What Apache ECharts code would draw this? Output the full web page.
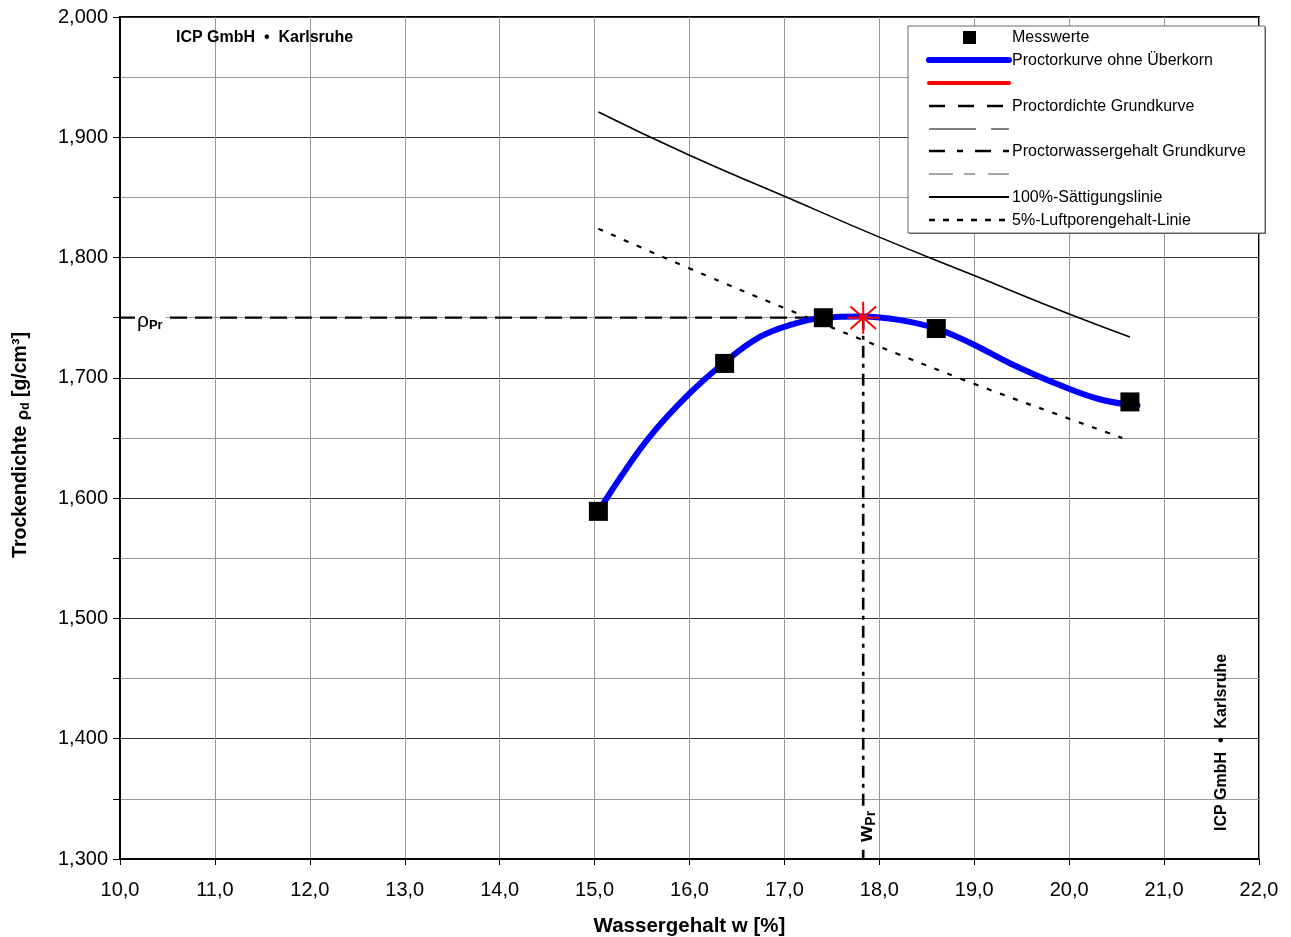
<!DOCTYPE html>
<html><head><meta charset="utf-8">
<script src="https://cdn.jsdelivr.net/npm/echarts@6/dist/echarts.min.js"></script>
<style>html,body{margin:0;padding:0;background:#fff}#c{width:1291px;height:937px}</style>
</head><body><div id="c"></div>
<script>
// ---- data ----
const messW   = [15.04, 16.37, 17.41, 18.60, 20.64];
const messRho = [1.589, 1.712, 1.750, 1.741, 1.680];

const proctorW   = [15.04, 15.27, 15.58, 16.00, 16.37, 16.74, 17.06, 17.41, 17.82, 18.22, 18.60, 18.96, 19.38, 19.90, 20.33, 20.72];
const proctorRho = [1.589, 1.617, 1.651, 1.687, 1.713, 1.734, 1.744, 1.750, 1.751, 1.748, 1.741, 1.729, 1.712, 1.694, 1.682, 1.677];

const satW   = [15.04, 16.0, 17.0, 18.0, 19.0, 20.0, 20.64];
const satRho = [1.921, 1.885, 1.851, 1.817, 1.785, 1.753, 1.734];

const airW   = [15.04, 16.0, 17.0, 18.0, 19.0, 20.0, 20.56];
const airRho = [1.824, 1.791, 1.758, 1.726, 1.695, 1.666, 1.650];

const wPr = 17.83;
const rhoPr = 1.750;

const xMin = 10, xMax = 22, xStep = 1;
const yMin = 1.3, yMax = 2.0, yStep = 0.1;

const legendLabels = ['Messwerte', 'Proctorkurve ohne Überkorn', '', 'Proctordichte Grundkurve', '', 'Proctorwassergehalt Grundkurve', '', '100%-Sättigungslinie', '5%-Luftporengehalt-Linie'];
const brandText = 'ICP GmbH  \u2022  Karlsruhe';

// ---- chart ----
const FONT = "'Liberation Sans', Arial, sans-serif";
const zip = (a, b) => a.map((v, i) => [v, b[i]]);
const chart = echarts.init(document.getElementById('c'), null, {renderer: 'canvas'});

const option = {
  animation: false,
  backgroundColor: '#fff',
  textStyle: {fontFamily: FONT},
  grid: {left: 120, right: 32, top: 17, bottom: 78, outerBoundsMode: 'none', containLabel: false,
    show: true, borderColor: '#000', borderWidth: 2, backgroundColor: 'transparent'},
  xAxis: {
    type: 'value', min: xMin, max: xMax, interval: xStep,
    name: 'Wassergehalt w [%]', nameLocation: 'middle', nameGap: 57,
    nameTextStyle: {fontFamily: FONT, fontSize: 20.5, fontWeight: 'bold', color: '#000'},
    axisLine: {show: true, onZero: false, lineStyle: {color: '#000', width: 2}},
    axisTick: {show: true, length: 6, lineStyle: {color: '#000', width: 1}},
    axisLabel: {margin: 21, fontSize: 20, color: '#000', fontFamily: FONT, formatter: v => v.toFixed(1).replace('.', ',')},
    splitLine: {show: true, lineStyle: {color: '#999', width: 1}}
  },
  yAxis: {
    type: 'value', min: yMin, max: yMax, interval: yStep,
    name: '{n|Trockendichte }{r|\u03c1}{s|d}{n| [g/cm\u00b3]}', nameLocation: 'middle', nameGap: 88, nameRotate: 90,
    nameTextStyle: {padding: [0, 14, 0, 0], rich: {
      n: {fontFamily: FONT, fontSize: 19.5, fontWeight: 'bold', color: '#000'},
      r: {fontFamily: FONT, fontSize: 17, fontWeight: 'bold', color: '#000', verticalAlign: 'bottom', padding: [5, 0, 0, 0]},
      s: {fontFamily: FONT, fontSize: 12, fontWeight: 'bold', color: '#000', verticalAlign: 'bottom', padding: [6, 0, 0, 0]}
    }},
    axisLine: {show: true, onZero: false, lineStyle: {color: '#000', width: 2}},
    axisTick: {show: true, length: 7, lineStyle: {color: '#000', width: 1}},
    minorTick: {show: true, splitNumber: 2, length: 7, lineStyle: {color: '#000', width: 1}},
    minorSplitLine: {show: true, lineStyle: {color: '#999', width: 1}},
    axisLabel: {margin: 12, fontSize: 20, color: '#000', fontFamily: FONT, formatter: v => v.toFixed(3).replace('.', ',')},
    splitLine: {show: true, lineStyle: {color: '#333', width: 1}}
  },
  series: [
    {name: 'sat', type: 'line', data: zip(satW, satRho), smooth: true, symbol: 'none', lineStyle: {color: '#000', width: 1.6}, z: 3},
    {name: 'air', type: 'line', data: zip(airW, airRho), smooth: true, symbol: 'none', lineStyle: {color: '#000', width: 2.2, type: [5, 9]}, z: 3},
    {name: 'rhoPr', type: 'line', data: [[xMin, rhoPr], [wPr, rhoPr]], symbol: 'none', lineStyle: {color: '#000', width: 2.2, type: [17, 8]}, z: 4},
    {name: 'wPr', type: 'line', data: [[wPr, rhoPr], [wPr, yMin]], symbol: 'none', lineStyle: {color: '#000', width: 2.6, type: [12, 6, 4, 6]}, z: 4},
    {name: 'proctor', type: 'line', data: zip(proctorW, proctorRho), smooth: 0.4, symbol: 'none', lineStyle: {color: '#0000ff', width: 6, cap: 'round'}, z: 5},
    {name: 'mess', type: 'scatter', data: zip(messW, messRho), symbol: 'rect', symbolSize: 19, itemStyle: {color: '#000', opacity: 1}, z: 6},
    {name: 'star', type: 'scatter', data: [[wPr, rhoPr]], symbol: 'path://M10,0L10,20M0,10L20,10M2,3L18,17M2,17L18,3', symbolSize: 32,
      itemStyle: {color: 'none', borderColor: '#ff0000', borderWidth: 2, opacity: 1}, z: 7}
  ]
};
chart.setOption(option);

// annotations & legend (positioned through the chart's own scales)
const pRho = chart.convertToPixel({gridIndex: 0}, [xMin, rhoPr]);
const pW = chart.convertToPixel({gridIndex: 0}, [wPr, yMin]);
const pTL = chart.convertToPixel({gridIndex: 0}, [xMin, yMax]);
const pBR = chart.convertToPixel({gridIndex: 0}, [xMax, yMin]);

const graphics = [];
// rho_Pr label
graphics.push({type: 'text', x: pRho[0] + 15, y: pRho[1] + 3, z: 50,
  style: {text: '{r|\u03c1}{s|Pr}', verticalAlign: 'middle', backgroundColor: '#fff', padding: [0, 3, 0, 2],
    rich: {r: {fontFamily: FONT, fontSize: 21, fill: '#000'}, s: {fontFamily: FONT, fontSize: 13, fontWeight: 'bold', fill: '#000', padding: [9, 0, 0, 0]}}}});
// w_Pr label (rotated)
graphics.push({type: 'text', x: pW[0] + 3, y: pW[1] - 15, rotation: Math.PI / 2, z: 50,
  style: {text: '{w|w}{s|Pr}', verticalAlign: 'middle', align: 'left', backgroundColor: '#fff', padding: [0, 2, 0, 2],
    rich: {w: {fontFamily: FONT, fontSize: 21, fontWeight: 'bold', fill: '#000'}, s: {fontFamily: FONT, fontSize: 14, fontWeight: 'bold', fill: '#000', padding: [9, 0, 0, 0]}}}});
// brand texts
graphics.push({type: 'text', x: pTL[0] + 56, y: pTL[1] + 21, z: 50,
  style: {text: brandText, fontFamily: FONT, fontSize: 16, fontWeight: 'bold', fill: '#000', verticalAlign: 'middle'}});
graphics.push({type: 'text', x: pBR[0] - 37, y: pBR[1] - 28, rotation: Math.PI / 2, z: 50,
  style: {text: brandText, fontFamily: FONT, fontSize: 16, fontWeight: 'bold', fill: '#000', verticalAlign: 'middle', align: 'left'}});

// legend box
const LX = 908, LY = 26, LW = 357, LH = 207;
graphics.push({type: 'rect', shape: {x: LX + 1, y: LY + 1, width: LW, height: LH}, style: {fill: '#555'}, z: 60});
graphics.push({type: 'rect', shape: {x: LX, y: LY, width: LW, height: LH}, style: {fill: '#fff', stroke: '#666', lineWidth: 1}, z: 61});
const rowY = [37, 60, 83, 106, 129, 151, 174, 197, 220];
const lx1 = 929, lx2 = 1009;
const lineStyles = [
  null,
  {stroke: '#0000ff', lineWidth: 6, lineCap: 'round'},
  {stroke: '#ff0000', lineWidth: 4, lineCap: 'round'},
  {stroke: '#000', lineWidth: 2.5, lineDash: [16, 13]},
  {stroke: '#000', lineWidth: 1, lineDash: [47, 15]},
  {stroke: '#000', lineWidth: 2.5, lineDash: [16, 12, 6, 12]},
  {stroke: '#888', lineWidth: 1.5, lineDash: [24, 11, 11, 13]},
  {stroke: '#000', lineWidth: 2},
  {stroke: '#000', lineWidth: 2.5, lineDash: [6, 8]}
];
rowY.forEach((y, i) => {
  if (i === 0) {
    graphics.push({type: 'rect', shape: {x: 963, y: y - 6, width: 13, height: 13}, style: {fill: '#000'}, z: 62});
  } else {
    graphics.push({type: 'line', shape: {x1: lx1, y1: y, x2: lx2, y2: y}, style: lineStyles[i], z: 62});
  }
  if (legendLabels[i]) {
    graphics.push({type: 'text', x: 1012, y: y + 1, z: 63,
      style: {text: legendLabels[i], fontFamily: FONT, fontSize: 16, fill: '#000', verticalAlign: 'middle'}});
  }
});
chart.setOption({graphic: graphics});
</script>
</body></html>
